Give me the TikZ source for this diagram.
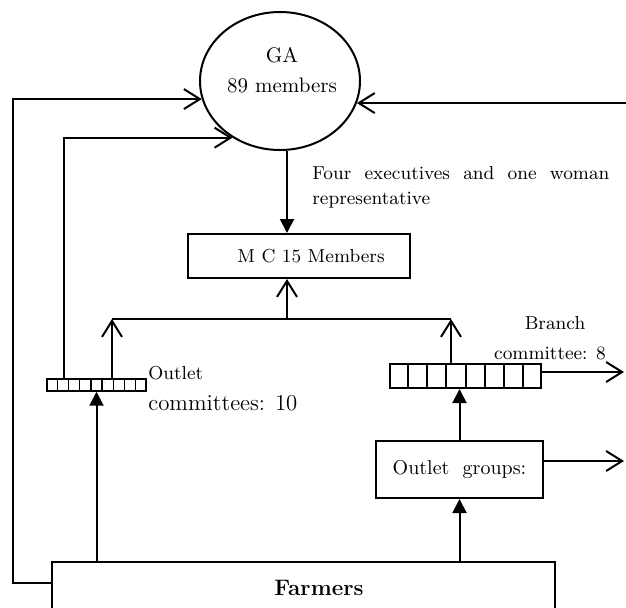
\documentclass[tikz,border=0pt]{standalone}
\usepackage{tikz}
\usetikzlibrary{arrows.meta,positioning,shapes.geometric,calc}

\tikzset{
  plain/.style={line width=1pt},
  box/.style={draw, plain, rectangle, inner sep=0pt},
  openarr/.style={plain, -{Straight Barb[length=8pt,width=10pt]}},
  fillarr/.style={plain, -{Triangle[length=7pt,width=7pt]}},
  txt/.style={inner sep=0pt, font=\fontsize{9.4}{12.5}\selectfont},
}

\begin{document}
\begin{tikzpicture}[x=0.5pt, y=-0.5pt]
  \useasboundingbox (0,0) rectangle (626,607);
  \clip (0,0) rectangle (626,607);

  % General assembly
  \node[draw, plain, ellipse, inner sep=0pt, minimum width=80pt, minimum height=69pt] (ga) at (280,81) {};
  \node[align=center, inner sep=0pt, font=\fontsize{10.5}{15}\selectfont] (galbl) at (282,70) {GA\\89 members};

  % Management committee
  \node[box, minimum width=111pt, minimum height=22pt] (mc) at (299,256) {};
  \node[txt] (mclbl) at (311,256) {M C 15 Members};
  \node[txt, anchor=west, text width=148.5pt, align=justify] (execlbl) at (312,187.5)
    {Four executives and one woman\break representative};

  % Committees
  \node[box, line width=0.7pt, minimum width=49.5pt, minimum height=6pt] (outletbar) at (96.5,385) {};
  \foreach \i in {1,...,8}
    \draw[line width=0.7pt] ($(outletbar.north west)!\i/9!(outletbar.north east)$) -- ($(outletbar.south west)!\i/9!(outletbar.south east)$);
  \node[txt, anchor=west] (outletlbl) at (148,373) {Outlet};
  \node[inner sep=0pt, anchor=west, font=\fontsize{11.4}{14}\selectfont] (outletnum) at (148,403) {committees: 10};

  \node[box, minimum width=75.5pt, minimum height=12pt] (branchbar) at (465.5,376) {};
  \foreach \i in {1,...,7}
    \draw[plain] ($(branchbar.north west)!\i/8!(branchbar.north east)$) -- ($(branchbar.south west)!\i/8!(branchbar.south east)$);
  \node[txt] (branchlbl) at (555,323) {Branch};
  \node[txt] (branchnum) at (550,353) {committee: 8};

  % Groups and farmers
  \node[box, minimum width=83.5pt, minimum height=28.5pt, font=\fontsize{10}{12}\selectfont] (groups) at (459.5,469.5) {Outlet\ \ groups:};
  \node[box, minimum width=251.5pt, minimum height=31.5pt] (farmers) at (303.5,593.5) {};
  \node[inner sep=0pt, font=\fontsize{11.2}{13}\selectfont\bfseries] (farmerslbl) at (319,588) {Farmers};

  % Links up to the GA
  \coordinate (spine) at (287,0);
  \coordinate (joinL) at (112,319);
  \coordinate (joinR) at (451,319);
  \coordinate (rin) at (626,102);
  \coordinate (rout) at (624,0);

  \draw[openarr] (farmers.west |- 0,583) -- (13,583) |- (ga.193.9);
  \draw[openarr] ([xshift=9pt]outletbar.north west) |- (ga.230.2);
  \draw[openarr] (rin |- ga.344.6) -- (ga.344.6);
  \draw[fillarr] (spine |- ga.south) -- (spine |- mc.north);

  % Committees to MC
  \draw[openarr] (outletbar.north -| joinL) -- (joinL);
  \draw[openarr] (branchbar.north -| joinR) -- (joinR);
  \draw[plain] (joinL) -- (joinR);
  \draw[openarr] (spine |- joinL) -- (spine |- mc.south);

  % Farmers upwards
  \draw[fillarr] (outletbar.south |- farmers.north) -- (outletbar.south);
  \draw[fillarr] (groups.south |- farmers.north) -- (groups.south);
  \draw[fillarr] (groups.north) -- (groups.north |- branchbar.south);

  % Exits to the right
  \draw[openarr] ([yshift=2pt]branchbar.east) -- ([yshift=2pt]branchbar.east -| rout);
  \draw[openarr] ([yshift=4.25pt]groups.east) -- ([yshift=4.25pt]groups.east -| rout);
\end{tikzpicture}
\end{document}
